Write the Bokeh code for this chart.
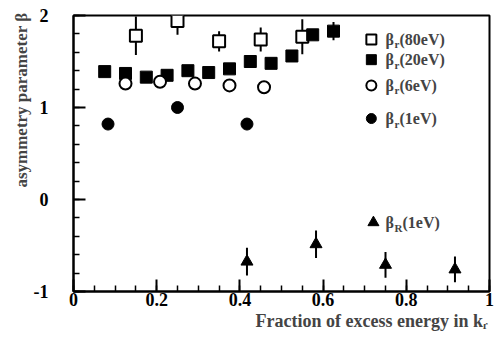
from bokeh.plotting import figure
from bokeh.models import Range1d, SingleIntervalTicker, CustomJSTickFormatter, Label, Title
from bokeh.embed import file_html
from bokeh.resources import INLINE

# ---- data ----
x80 = [0.15, 0.25, 0.35, 0.45, 0.55]
y80 = [1.78, 1.94, 1.72, 1.74, 1.77]
e80 = [0.21, 0.15, 0.11, 0.13, 0.19]

x20 = [0.075, 0.125, 0.175, 0.225, 0.275, 0.325, 0.375, 0.425, 0.475, 0.525, 0.575, 0.625]
y20 = [1.39, 1.37, 1.33, 1.35, 1.40, 1.38, 1.42, 1.50, 1.48, 1.56, 1.79, 1.83]
e20 = [0, 0, 0, 0, 0, 0, 0, 0, 0, 0, 0, 0.10]

x6 = [0.125, 0.208, 0.292, 0.375, 0.458]
y6 = [1.26, 1.28, 1.26, 1.24, 1.22]

x1 = [0.083, 0.25, 0.417]
y1 = [0.82, 1.00, 0.82]

xR = [0.417, 0.583, 0.75, 0.917]
yR = [-0.675, -0.486, -0.71, -0.76]
eR = [0.15, 0.15, 0.14, 0.14]

legend_names = ["(80eV)", "(20eV)", "(6eV)", "(1eV)"]

FONT = "Liberation Serif"

p = figure(width=495, height=337, output_backend="svg", toolbar_location=None,
           x_range=Range1d(0, 1), y_range=Range1d(-1, 2),
           min_border_left=73, min_border_right=6, min_border_top=15, min_border_bottom=46)
p.xgrid.visible = False
p.ygrid.visible = False
p.outline_line_color = "black"
p.outline_line_width = 2
p.background_fill_color = "white"
p.border_fill_color = "white"

p.xaxis.ticker = SingleIntervalTicker(interval=0.2, num_minor_ticks=4)
p.yaxis.ticker = SingleIntervalTicker(interval=1, num_minor_ticks=5)
fmt = CustomJSTickFormatter(code="var s = (Math.abs(tick) < 1e-9 ? 0 : tick).toFixed(1); return s.replace(/\\.0$/, '');")
p.xaxis.formatter = fmt
p.yaxis.formatter = fmt
for ax in (p.xaxis, p.yaxis):
    ax.axis_line_width = 2
    ax.major_tick_line_width = 2
    ax.minor_tick_line_width = 1.5
    ax.major_tick_in = 12
    ax.major_tick_out = 0
    ax.minor_tick_in = 6
    ax.minor_tick_out = 0
    ax.major_label_text_font = FONT
    ax.major_label_text_font_style = "bold"
    ax.major_label_text_font_size = "18px"
    ax.major_label_text_color = "black"
p.xaxis.major_label_standoff = 1
p.yaxis.major_label_standoff = 25

p.add_layout(Title(text="asymmetry parameter β", align="right", text_font=FONT,
                   text_font_style="bold", text_font_size="17px", offset=-3, standoff=0), "left")
p.add_layout(Title(text="Fraction of excess energy in kᵣ", align="right", text_font=FONT,
                   text_font_style="bold", text_font_size="18px", offset=2, standoff=0), "below")

def ebars(xs, ys, es):
    x0 = [x for x, e in zip(xs, es) if e > 0]
    ylo = [y - e for y, e in zip(ys, es) if e > 0]
    yhi = [y + e for y, e in zip(ys, es) if e > 0]
    p.segment(x0=x0, y0=ylo, x1=x0, y1=yhi, line_color="black", line_width=2)

ebars(x80, y80, e80)
ebars(x20, y20, e20)
ebars(xR, yR, eR)

p.scatter(x80, y80, marker="square", size=12, fill_color="white", line_color="black", line_width=2)
p.scatter(x20, y20, marker="square", size=12, fill_color="black", line_color="black")
p.scatter(x6, y6, marker="circle", size=12, fill_color="white", line_color="black", line_width=2)
p.scatter(x1, y1, marker="circle", size=12, fill_color="black", line_color="black")
p.scatter(xR, yR, marker="triangle", size=12, fill_color="black", line_color="black")

# ---- legend (manual, to allow subscripts) ----
leg_x = 0.716
leg_tx = 0.75
leg_y = [1.74, 1.52, 1.24, 0.88]
leg_marker = [("square", "white"), ("square", "black"), ("circle", "white"), ("circle", "black")]
for (m, fc), yy in zip(leg_marker, leg_y):
    p.scatter([leg_x], [yy], marker=m, size=10, fill_color=fc, line_color="black",
              line_width=2 if fc == "white" else 1)

def sub_label(x, y, main, sub, rest, size=16, subsize=11):
    p.add_layout(Label(x=x, y=y, text=main, text_font=FONT, text_font_style="bold",
                       text_font_size=f"{size}px", text_baseline="middle", text_align="left"))
    p.add_layout(Label(x=x, y=y, x_offset=9, y_offset=-5, text=sub, text_font=FONT, text_font_style="bold",
                       text_font_size=f"{subsize}px", text_baseline="middle", text_align="left"))
    off = 14 if sub == "r" else 17
    p.add_layout(Label(x=x, y=y, x_offset=off, text=rest, text_font=FONT, text_font_style="bold",
                       text_font_size=f"{size}px", text_baseline="middle", text_align="left"))

for name, yy in zip(legend_names, leg_y):
    sub_label(leg_tx, yy, "β", "r", name)

p.scatter([0.721], [-0.25], marker="triangle", size=11, fill_color="black", line_color="black")
sub_label(leg_tx, -0.25, "β", "R", "(1eV)")

open("out.html", "w").write(file_html(p, INLINE))
